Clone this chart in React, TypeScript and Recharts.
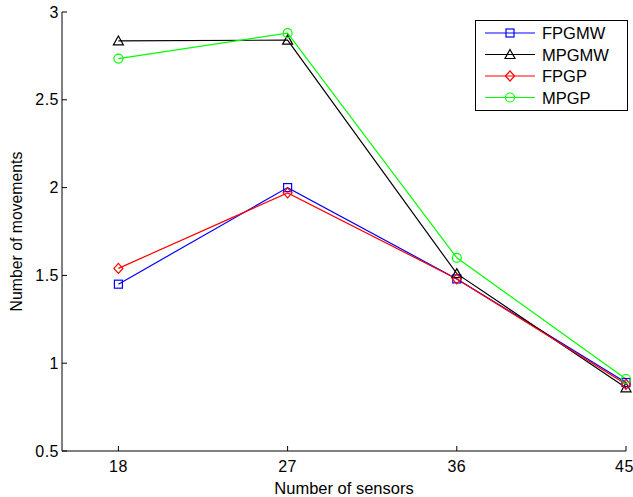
import React from 'react';
import { LineChart, Line, XAxis, YAxis } from 'recharts';

const sensors = [18, 27, 36, 45];
const fpgmw = [1.45, 2.0, 1.48, 0.89];
const mpgmw = [2.835, 2.84, 1.51, 0.86];
const fpgp = [1.54, 1.97, 1.48, 0.88];
const mpgp = [2.735, 2.88, 1.6, 0.91];
const xTicks = [18, 27, 36, 45];
const yTicks = [0.5, 1, 1.5, 2, 2.5, 3];

const data = sensors.map((s, i) => ({
  sensors: s,
  FPGMW: fpgmw[i],
  MPGMW: mpgmw[i],
  FPGP: fpgp[i],
  MPGP: mpgp[i],
}));

type Marker = 'square' | 'triangle' | 'diamond' | 'circle';

const MarkerShape = ({ cx, cy, type, color }: { cx: number; cy: number; type: Marker; color: string }) => {
  if (cx == null || cy == null) return null;
  const common = { fill: 'none', stroke: color, strokeWidth: 1.2 };
  if (type === 'square') return <rect x={cx - 4} y={cy - 4} width={8} height={8} {...common} />;
  if (type === 'triangle')
    return <polygon points={`${cx},${cy - 5} ${cx + 5},${cy + 4} ${cx - 5},${cy + 4}`} {...common} />;
  if (type === 'diamond')
    return <polygon points={`${cx},${cy - 5} ${cx + 4.5},${cy} ${cx},${cy + 5} ${cx - 4.5},${cy}`} {...common} />;
  return <circle cx={cx} cy={cy} r={4.5} {...common} />;
};

const series: { key: string; color: string; marker: Marker }[] = [
  { key: 'FPGMW', color: '#0000ff', marker: 'square' },
  { key: 'MPGMW', color: '#000000', marker: 'triangle' },
  { key: 'FPGP', color: '#ff0000', marker: 'diamond' },
  { key: 'MPGP', color: '#00ff00', marker: 'circle' },
];

const font = '"Liberation Sans", Arial, sans-serif';
const tickStyle = { fill: '#000', fontSize: 16, letterSpacing: 0.5 };

const LegendBox = () => (
  <svg width={153} height={91} style={{ display: 'block', fontFamily: font }}>
    <rect x={0.5} y={0.5} width={152} height={90} fill="#fff" stroke="#000" strokeWidth={1} />
    {series.map((s, i) => {
      const y = 13 + i * 21.5;
      return (
        <g key={s.key}>
          <line x1={10} x2={60} y1={y} y2={y} stroke={s.color} strokeWidth={1} />
          <MarkerShape cx={35} cy={y} type={s.marker} color={s.color} />
          <text x={67} y={y + 6} fontSize={16.5} fill="#000">
            {s.key}
          </text>
        </g>
      );
    })}
  </svg>
);

export default function App() {
  return (
    <div style={{ position: 'absolute', left: 0, top: 0, width: 633, height: 497, background: '#fff' }}>
      <LineChart
        width={633}
        height={497}
        data={data}
        margin={{ top: 12, right: 7, left: 0, bottom: 0 }}
        style={{ fontFamily: font }}
      >
        <XAxis
          dataKey="sensors"
          type="number"
          domain={[15, 45]}
          ticks={xTicks}
          height={46}
          tickSize={-5}
          tickMargin={15}
          stroke="#000"
          tick={tickStyle}
          label={{ value: 'Number of sensors', position: 'insideBottom', offset: 3, fill: '#000', fontSize: 16.5 }}
        />
        <XAxis
          xAxisId="top"
          dataKey="sensors"
          type="number"
          orientation="top"
          domain={[15, 45]}
          ticks={xTicks}
          height={0}
          tickSize={-5}
          tick={false}
          stroke="#000"
        />
        <YAxis
          type="number"
          domain={[0.5, 3]}
          ticks={yTicks}
          width={62}
          tickSize={-5}
          tickMargin={8}
          stroke="#000"
          tick={tickStyle}
          label={{ value: 'Number of movements', angle: -90, position: 'center', dx: -15, fill: '#000', fontSize: 15.8 }}
        />
        <YAxis
          yAxisId="right"
          type="number"
          orientation="right"
          domain={[0.5, 3]}
          ticks={yTicks}
          width={0}
          tickSize={-5}
          tick={false}
          stroke="#000"
        />
        {series.map((s) => (
          <Line
            key={s.key}
            dataKey={s.key}
            stroke={s.color}
            strokeWidth={1.2}
            isAnimationActive={false}
            dot={(p: any) => (
              <MarkerShape key={`${s.key}-${p.index}`} cx={p.cx} cy={p.cy} type={s.marker} color={s.color} />
            )}
            activeDot={false}
          />
        ))}
      </LineChart>
      <div style={{ position: 'absolute', left: 475, top: 20 }}>
        <LegendBox />
      </div>
    </div>
  );
}
